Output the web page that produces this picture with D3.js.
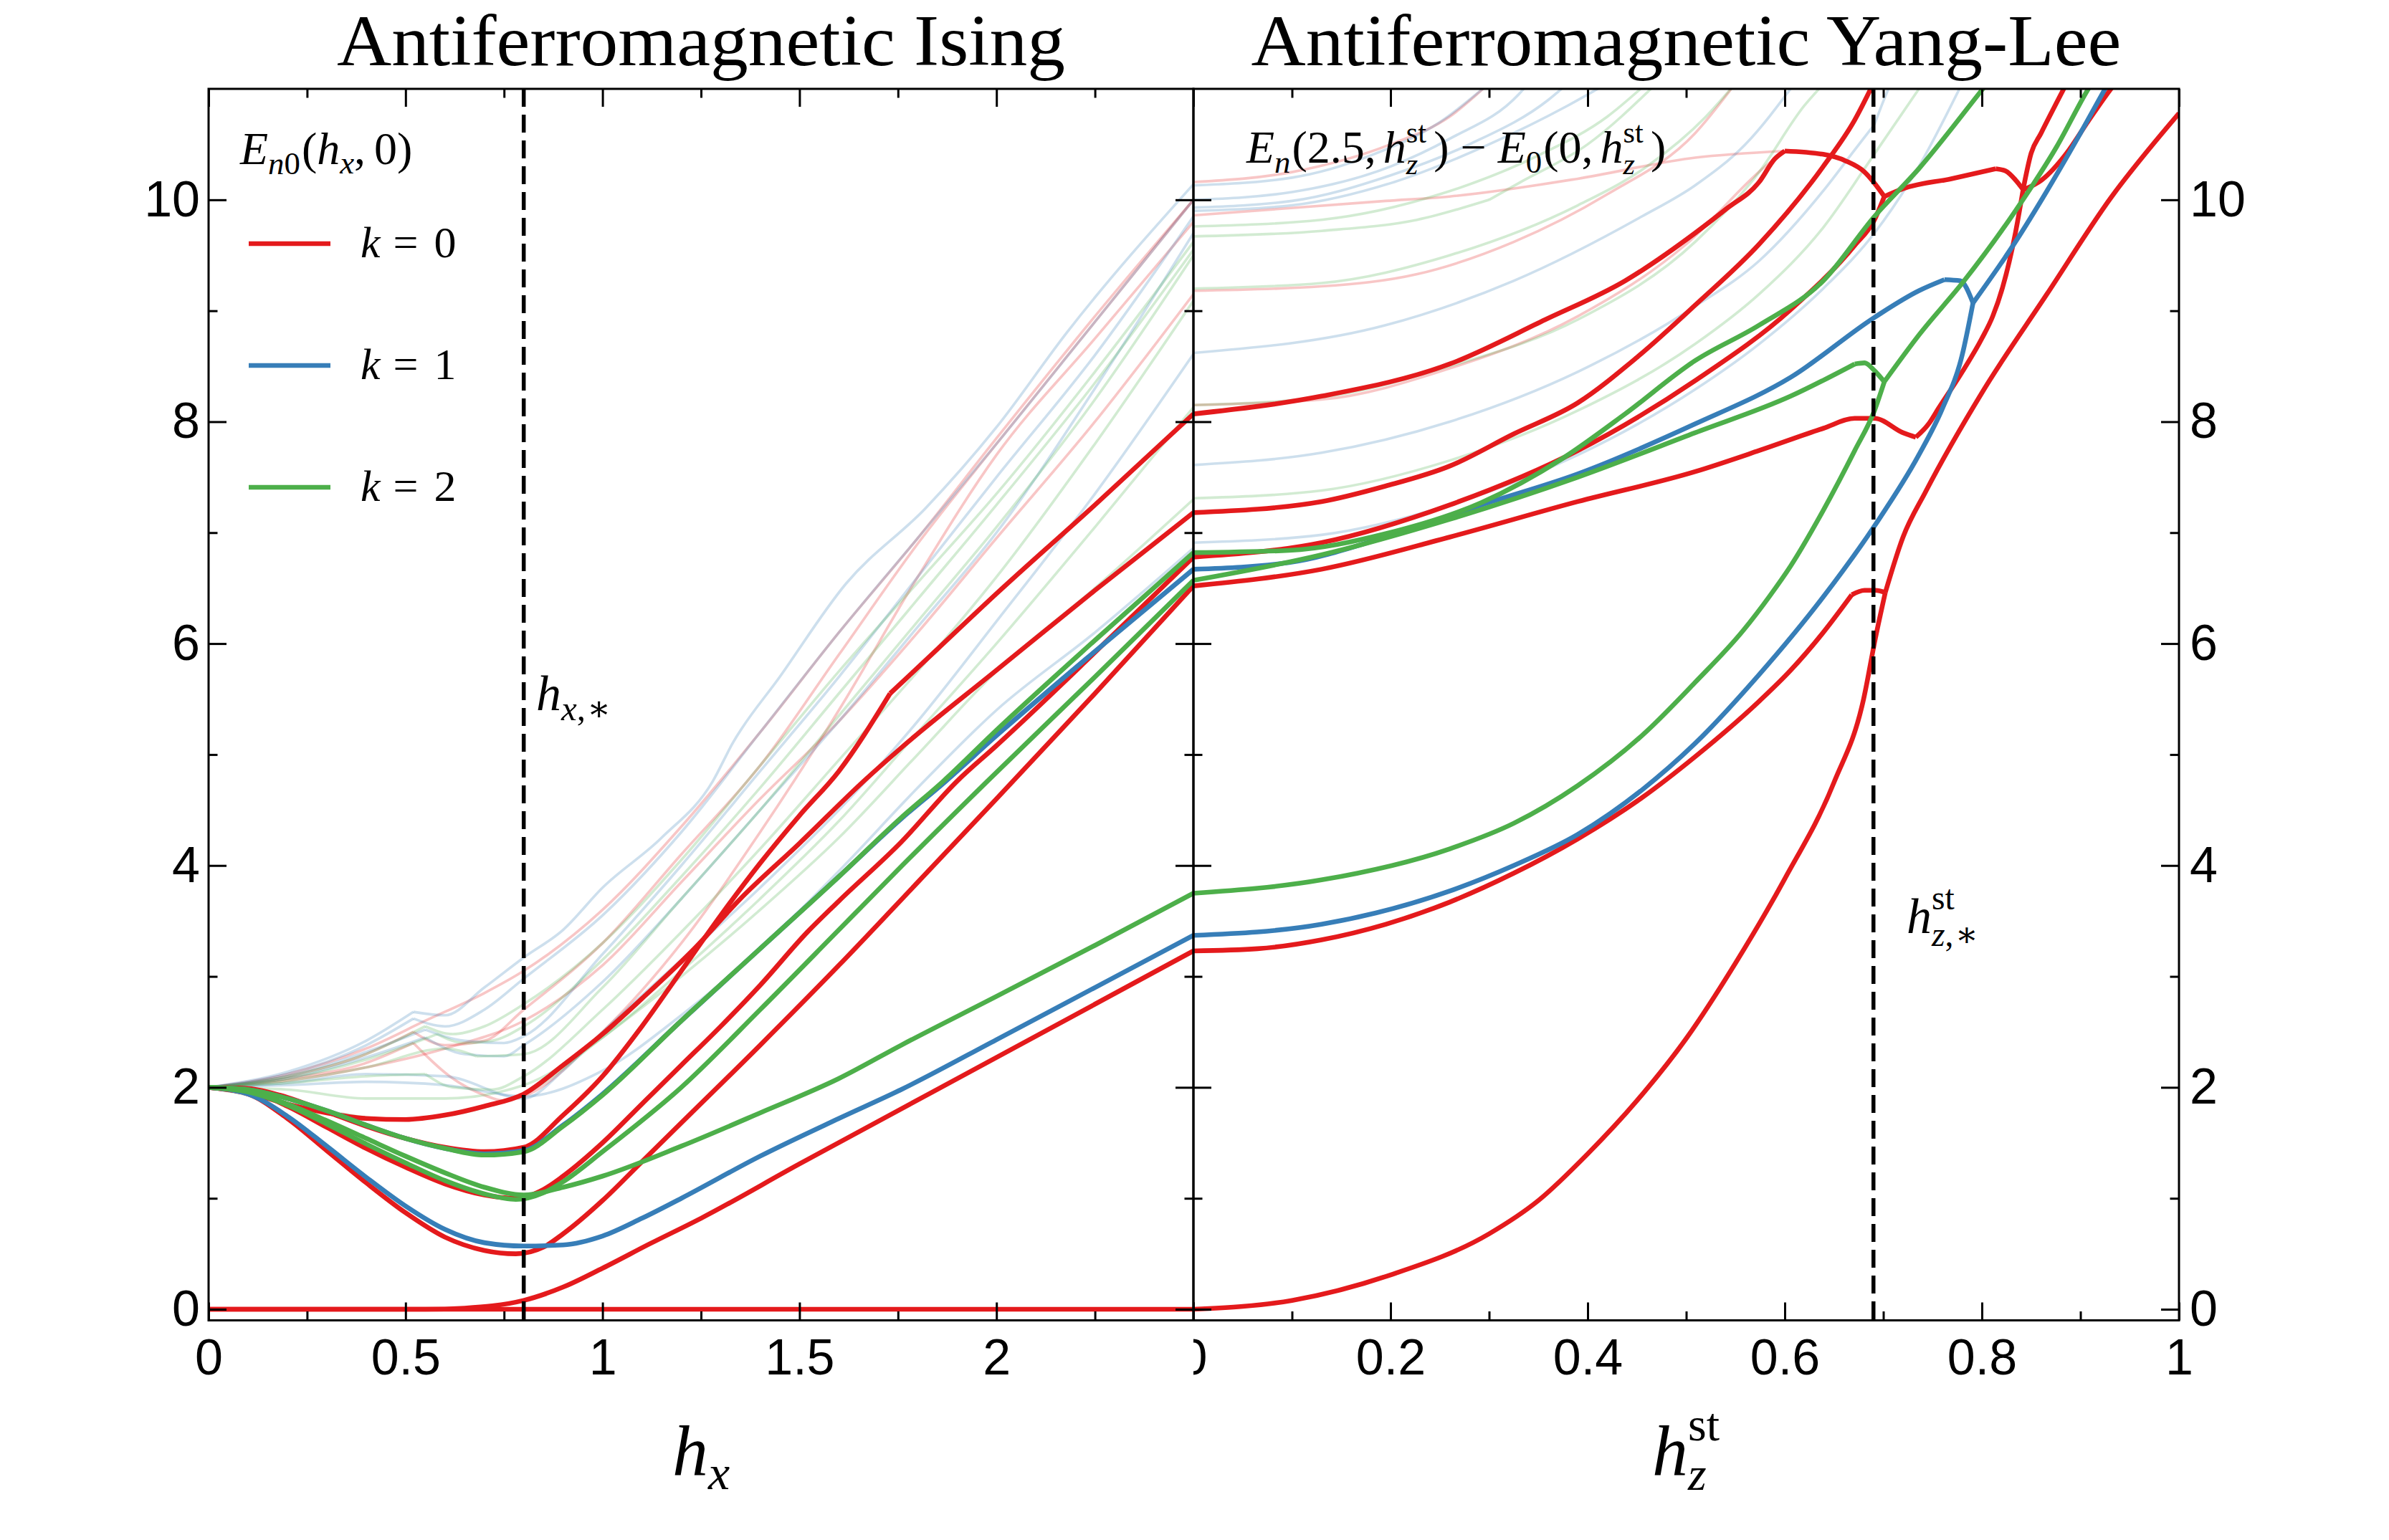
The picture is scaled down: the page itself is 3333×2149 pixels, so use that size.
<!DOCTYPE html>
<html>
<head>
<meta charset="utf-8">
<script src="https://cdn.jsdelivr.net/npm/d3@7"></script>
<style>
  html, body { margin: 0; padding: 0; background: #fff; }
  svg { display: block; }
</style>
</head>
<body>
<svg id="chart"></svg>
<script>
// ---- data: [h, E] pairs, a third value 1 marks a sharp kink ----

const panelTitles = ["Antiferromagnetic Ising", "Antiferromagnetic Yang-Lee"];
const legendKeys = ["0", "1", "2"];

const leftMajorTicks = [0, 0.5, 1, 1.5, 2, 2.5];
const leftMinorTicks = [0.25, 0.75, 1.25, 1.75, 2.25];
const rightMajorTicks = [0, 0.2, 0.4, 0.6, 0.8, 1];
const rightMinorTicks = [0.1, 0.3, 0.5, 0.7, 0.9];
const yMajorTicks = [0, 2, 4, 6, 8, 10];
const yMinorTicks = [1, 3, 5, 7, 9];

const isingCritical = 0.8;
const yangLeeCritical = 0.69;

// left panel, E_n0(h_x, 0)
const isingRed = [
  [[0,0],[2.5,0]],
  [[0,0],[0.55,0],[0.65,0.01],[0.72,0.03],[0.8,0.08],[0.9,0.2],[1.0,0.37],[1.12,0.59],[1.25,0.82],[1.5,1.31],[1.75,1.79],[2.0,2.27],[2.25,2.75],[2.5,3.23]],
  [[0,2],[0.1,1.94],[0.2,1.72],[0.3,1.43],[0.4,1.14],[0.5,0.87],[0.6,0.65],[0.7,0.53],[0.78,0.5],[0.85,0.56],[0.9,0.68],[1.0,0.98],[1.1,1.33],[1.2,1.68],[1.4,2.38],[1.6,3.1],[1.758,3.69],[2.0,4.6],[2.25,5.55],[2.5,6.52]],
  [[0,2],[0.1,1.97],[0.2,1.83],[0.3,1.64],[0.4,1.45],[0.5,1.28],[0.6,1.13],[0.7,1.03],[0.78,1.0],[0.85,1.08],[0.9,1.2],[1.0,1.5],[1.1,1.85],[1.2,2.2],[1.3,2.55],[1.4,2.92],[1.52,3.4],[1.6,3.68],[1.758,4.21],[1.9,4.76],[2.0,5.08],[2.25,5.92],[2.5,6.78]],
  [[0,2],[0.1,1.99],[0.2,1.91],[0.3,1.78],[0.4,1.65],[0.5,1.54],[0.6,1.46],[0.7,1.42],[0.8,1.46],[0.9,1.75],[1.0,2.1],[1.1,2.55],[1.2,3.05],[1.3,3.55],[1.4,4.02],[1.5,4.45],[1.6,4.85],[1.73,5.55,1],[1.85,5.95],[2.0,6.45],[2.25,7.25],[2.5,8.07]],
  [[0,2],[0.1,1.95],[0.2,1.85],[0.3,1.77],[0.4,1.72],[0.5,1.71],[0.6,1.75],[0.7,1.83],[0.8,1.94],[0.9,2.2],[1.0,2.48],[1.1,2.8],[1.233,3.25],[1.35,3.7],[1.5,4.2],[1.663,4.76],[1.758,5.06],[2.0,5.76],[2.25,6.48],[2.5,7.18]]
];
const isingBlue = [
  [[0,2],[0.1,1.94],[0.2,1.74],[0.3,1.47],[0.4,1.19],[0.5,0.93],[0.6,0.72],[0.7,0.6],[0.8,0.57],[0.9,0.58],[1.0,0.66],[1.1,0.82],[1.2,1.0],[1.4,1.38],[1.6,1.72],[1.758,1.98],[2.0,2.43],[2.25,2.9],[2.5,3.37]],
  [[0,2],[0.1,1.98],[0.2,1.9],[0.3,1.79],[0.4,1.66],[0.5,1.54],[0.6,1.45],[0.7,1.4],[0.8,1.43],[0.9,1.66],[1.0,1.94],[1.2,2.6],[1.4,3.25],[1.6,3.9],[1.758,4.42],[1.865,4.74],[2.0,5.17],[2.25,5.93],[2.5,6.67]]
];
const isingGreen = [
  [[0,2],[0.1,1.96],[0.2,1.84],[0.3,1.67],[0.4,1.49],[0.5,1.32],[0.6,1.16],[0.7,1.04],[0.78,0.99],[0.85,1.05],[0.9,1.15],[1.0,1.42],[1.2,2.0],[1.4,2.7],[1.6,3.42],[1.758,3.99],[1.977,4.76],[2.25,5.7],[2.5,6.57]],
  [[0,2],[0.1,1.98],[0.2,1.9],[0.3,1.79],[0.4,1.66],[0.5,1.54],[0.6,1.45],[0.7,1.39],[0.8,1.42],[0.9,1.65],[1.0,1.93],[1.2,2.6],[1.4,3.25],[1.6,3.9],[1.758,4.43],[1.865,4.76],[2.0,5.22],[2.25,6.03],[2.5,6.82]],
  [[0,2],[0.1,1.96],[0.2,1.85],[0.3,1.7],[0.4,1.54],[0.5,1.38],[0.6,1.23],[0.7,1.1],[0.8,1.03],[0.9,1.1],[1.0,1.2],[1.2,1.47],[1.4,1.77],[1.6,2.08],[1.758,2.38],[2.0,2.82],[2.25,3.28],[2.5,3.75]]
];
const isingRedFaint = [
  [[0,2],[0.2,2.12],[0.4,2.35],[0.55,2.6],[0.7,2.85],[0.8,3.05],[1.0,3.6],[1.2,4.35],[1.4,5.2],[1.6,6.1],[1.8,6.95],[2.0,7.85],[2.25,8.95],[2.5,10.0]],
  [[0,2],[0.2,2.08],[0.4,2.22],[0.52,2.4,1],[0.62,2.08],[0.7,1.93],[0.75,1.88],[0.8,1.92],[1.0,2.5],[1.2,3.3],[1.4,4.3],[1.6,5.4],[1.8,6.6],[2.0,7.7],[2.25,8.75],[2.5,9.8]],
  [[0,2],[0.2,2.06],[0.4,2.18],[0.6,2.35],[0.8,2.6],[1.0,3.1],[1.2,3.85],[1.4,4.6],[1.6,5.3],[1.8,6.1],[2.0,6.95],[2.25,8.0],[2.5,9.15]],
  [[0,2],[0.2,2.1],[0.4,2.3],[0.52,2.5,1],[0.6,2.38],[0.7,2.42],[0.8,2.7],[1.0,3.3],[1.2,4.1],[1.4,4.9],[1.6,5.9],[1.8,6.9],[2.0,7.8],[2.25,8.9],[2.5,10.0]]
];
const isingBlueFaint = [
  [[0,2],[0.2,2.14],[0.4,2.42],[0.52,2.68,1],[0.6,2.65],[0.7,2.9],[0.8,3.17],[0.9,3.42],[1.0,3.8],[1.15,4.25],[1.28,4.76],[1.33,5.1],[1.45,5.7],[1.618,6.54],[1.82,7.22],[2.0,7.95],[2.18,8.81],[2.5,10.14]],
  [[0,2],[0.2,2.12],[0.4,2.38],[0.52,2.62,1],[0.6,2.55],[0.7,2.7],[0.8,2.98],[1.0,3.55],[1.2,4.3],[1.4,5.2],[1.6,6.1],[1.8,6.95],[2.0,7.8],[2.25,8.9],[2.5,10.0]],
  [[0,2],[0.2,2.1],[0.4,2.32],[0.55,2.52,1],[0.65,2.42],[0.75,2.4],[0.8,2.46],[1.0,3.2],[1.2,4.0],[1.4,4.85],[1.6,5.7],[1.8,6.6],[2.0,7.5],[2.25,8.6],[2.5,9.85]],
  [[0,2],[0.2,2.08],[0.4,2.27],[0.55,2.45,1],[0.65,2.3],[0.75,2.28],[0.8,2.38],[1.0,2.95],[1.2,3.7],[1.4,4.5],[1.6,5.3],[1.8,6.15],[2.0,7.0],[2.25,8.3],[2.5,9.7]],
  [[0,2],[0.2,2.04],[0.4,2.12],[0.6,2.1],[0.8,1.9],[0.9,2.15],[1.0,2.5],[1.2,3.15],[1.4,3.8],[1.6,4.5],[1.8,5.3],[2.0,6.2],[2.25,7.35],[2.5,8.61]],
  [[0,2],[0.2,2.02],[0.4,2.05],[0.6,2.02],[0.8,1.92],[1.0,2.15],[1.2,2.65],[1.4,3.25],[1.6,3.95],[1.8,4.7],[2.0,5.4],[2.25,6.1],[2.5,6.86]]
];
const isingGreenFaint = [
  [[0,2],[0.2,2.1],[0.4,2.3],[0.55,2.55,1],[0.62,2.48],[0.7,2.55],[0.8,2.75],[1.0,3.3],[1.2,4.05],[1.4,4.9],[1.6,5.75],[1.8,6.55],[2.0,7.35],[2.25,8.45],[2.5,9.62]],
  [[0,2],[0.2,2.08],[0.4,2.25],[0.58,2.48,1],[0.65,2.4],[0.72,2.42],[0.8,2.55],[1.0,3.15],[1.2,3.9],[1.4,4.7],[1.6,5.55],[1.8,6.4],[2.0,7.25],[2.25,8.35],[2.5,9.55]],
  [[0,2],[0.2,2.06],[0.4,2.18],[0.6,2.35],[0.68,2.28,1],[0.8,2.3],[1.0,2.9],[1.2,3.7],[1.4,4.5],[1.6,5.35],[1.8,6.2],[2.0,7.05],[2.25,8.2],[2.5,9.5]],
  [[0,2],[0.2,2.04],[0.4,2.1],[0.55,2.12,1],[0.62,2.0],[0.72,1.98],[0.8,2.1],[1.0,2.7],[1.2,3.4],[1.4,4.15],[1.6,4.95],[1.8,5.75],[2.0,6.6],[2.25,7.8],[2.5,9.09]],
  [[0,2],[0.2,1.98],[0.4,1.9],[0.6,1.9],[0.8,2.02],[1.0,2.45],[1.2,3.05],[1.4,3.7],[1.6,4.4],[1.8,5.2],[2.0,6.0],[2.25,7.05],[2.5,8.13]],
  [[0,2],[0.2,1.86],[0.4,1.73],[0.5,1.71],[0.6,1.74],[0.7,1.82],[0.8,1.94],[1.0,2.45],[1.2,3.0],[1.4,3.6],[1.6,4.25],[1.8,5.0],[2.0,5.75],[2.25,6.5],[2.5,7.3]]
];

// right panel, E_n(2.5, h_z) - E_0(0, h_z)
const ylRed = [
  [[0,0],[0.1,0.08],[0.2,0.31],[0.3,0.68],[0.35,0.98],[0.4,1.4],[0.45,1.88],[0.5,2.44],[0.55,3.12],[0.6,3.88],[0.65,4.75],[0.68,5.5],[0.692,6.05],[0.702,6.46,1],[0.72,6.96],[0.743,7.37],[0.8,8.26],[0.866,9.15],[0.931,10.02],[1.0,10.78]],
  [[0,3.23],[0.065,3.25],[0.13,3.33],[0.195,3.47],[0.26,3.67],[0.325,3.93],[0.39,4.24],[0.455,4.61],[0.509,4.98],[0.574,5.48],[0.606,5.76],[0.639,6.1],[0.668,6.44,1],[0.681,6.48],[0.692,6.48],[0.702,6.46]],
  [[0,6.52],[0.13,6.67],[0.26,6.96],[0.39,7.28],[0.509,7.55],[0.574,7.74],[0.639,7.94],[0.671,8.03],[0.691,8.03],[0.72,7.9],[0.733,7.86,1],[0.746,7.98],[0.756,8.12],[0.778,8.42],[0.8,8.75],[0.811,8.95],[0.821,9.21],[0.834,9.7],[0.842,10.1,1],[0.85,10.42],[0.86,10.6],[0.886,11.05]],
  [[0,6.78],[0.13,6.91],[0.26,7.25],[0.39,7.74],[0.509,8.37],[0.606,9.01],[0.671,9.59],[0.691,9.82],[0.701,10.03,1]],
  [[0,8.07],[0.13,8.23],[0.26,8.52],[0.357,8.92],[0.438,9.27],[0.509,9.7],[0.541,9.92],[0.574,10.16],[0.59,10.37],[0.6,10.44,1],[0.639,10.41],[0.662,10.35],[0.681,10.25],[0.691,10.15],[0.701,10.03,1],[0.72,10.1],[0.769,10.19],[0.814,10.28,1],[0.824,10.26],[0.834,10.18],[0.842,10.09,1],[0.861,10.18],[0.886,10.42],[0.908,10.71],[0.931,11.0],[0.94,11.1]],
  [[0,7.18],[0.13,7.28],[0.195,7.42],[0.26,7.6],[0.325,7.89],[0.39,8.17],[0.45,8.58],[0.509,9.05],[0.574,9.6],[0.639,10.3],[0.671,10.72],[0.69,11.05]]
];
const ylBlue = [
  [[0,3.37],[0.13,3.47],[0.26,3.77],[0.325,4.0],[0.39,4.28],[0.455,4.68],[0.509,5.1],[0.574,5.72],[0.639,6.42],[0.691,7.06],[0.736,7.7],[0.76,8.12],[0.78,8.6],[0.791,9.07,1],[0.834,9.62],[0.866,10.08],[0.9,10.6],[0.925,11.0],[0.93,11.08]],
  [[0,6.67],[0.097,6.73],[0.195,6.96],[0.292,7.25],[0.39,7.53],[0.509,7.98],[0.606,8.4],[0.691,8.94],[0.736,9.18],[0.762,9.28,1],[0.778,9.27],[0.791,9.07]]
];
const ylGreen = [
  [[0,3.75],[0.13,3.87],[0.26,4.15],[0.325,4.38],[0.39,4.72],[0.455,5.17],[0.509,5.65],[0.558,6.12],[0.584,6.42],[0.606,6.7],[0.639,7.2],[0.671,7.74],[0.691,8.1],[0.701,8.36,1],[0.736,8.78],[0.782,9.27],[0.834,9.9],[0.876,10.48],[0.908,11.0],[0.915,11.1]],
  [[0,6.57],[0.13,6.8],[0.26,7.12],[0.39,7.5],[0.509,7.9],[0.606,8.23],[0.671,8.52,1],[0.681,8.53],[0.691,8.46],[0.701,8.36]],
  [[0,6.82],[0.097,6.84],[0.195,6.99],[0.292,7.27],[0.373,7.66],[0.438,8.07],[0.509,8.55],[0.574,8.87],[0.639,9.27],[0.691,9.85],[0.736,10.28],[0.801,11.0],[0.81,11.1]]
];
const ylRedFaint = [
  [[0,10.16],[0.1,10.25],[0.2,10.5],[0.26,10.75],[0.3,11.05]],
  [[0,9.86],[0.195,9.99],[0.26,10.03],[0.39,10.19],[0.509,10.38],[0.6,10.44]],
  [[0,9.18],[0.13,9.22],[0.227,9.33],[0.325,9.62],[0.42,10.05],[0.509,10.6],[0.55,11.05]],
  [[0,8.15],[0.13,8.2],[0.26,8.48],[0.39,8.95],[0.5,9.6],[0.58,10.3],[0.6,10.44]]
];
const ylBlueFaint = [
  [[0,6.91],[0.13,6.98],[0.26,7.25],[0.39,7.7],[0.509,8.29],[0.574,8.7],[0.639,9.2],[0.691,9.7],[0.736,10.3],[0.78,11.05]],
  [[0,7.61],[0.13,7.72],[0.26,8.0],[0.39,8.45],[0.509,9.04],[0.574,9.45],[0.639,10.08],[0.671,10.45],[0.691,10.68,1],[0.701,10.91],[0.71,11.1]],
  [[0,8.62],[0.195,8.87],[0.325,9.27],[0.455,9.85],[0.509,10.13],[0.56,10.5],[0.61,11.05]],
  [[0,9.9],[0.1,9.95],[0.2,10.15],[0.3,10.5],[0.38,10.85],[0.42,11.05]],
  [[0,9.93],[0.1,9.99],[0.2,10.22],[0.28,10.5],[0.36,10.9],[0.38,11.05]],
  [[0,10.0],[0.1,10.07],[0.2,10.3],[0.26,10.55],[0.33,10.95],[0.34,11.05]],
  [[0,10.13],[0.1,10.2],[0.18,10.4],[0.25,10.7],[0.3,11.05]]
];
const ylGreenFaint = [
  [[0,7.31],[0.13,7.38],[0.26,7.65],[0.39,8.1],[0.509,8.7],[0.574,9.15],[0.639,9.75],[0.69,10.4],[0.74,11.05]],
  [[0,8.15],[0.13,8.22],[0.26,8.5],[0.39,8.92],[0.509,9.62],[0.574,10.25],[0.62,10.85],[0.64,11.05]],
  [[0,9.67],[0.13,9.72],[0.227,9.82],[0.3,10.0,1],[0.33,10.15],[0.4,10.5],[0.47,11.05]],
  [[0,9.76],[0.13,9.82],[0.25,10.05],[0.35,10.4],[0.42,10.75],[0.46,11.05]],
  [[0,9.2],[0.13,9.25],[0.26,9.5],[0.39,9.95],[0.46,10.3],[0.52,10.75],[0.55,11.05]]
];

// ---- layout ----
const width = 3333;
const height = 2149;
const RED = "#e41a1c", BLUE = "#377eb8", GREEN = "#4daf4a";
const BOLD_W = 6.6, FAINT_W = 3.6, FAINT_A = 0.25;
const SERIF = "'Liberation Serif', 'DejaVu Serif', serif";
const SANS = "'Liberation Sans', Arial, sans-serif";

const yTop = 124, yBot = 1842.5;
const xL = d3.scaleLinear().domain([0, 2.5]).range([291, 1665]);
const xR = d3.scaleLinear().domain([0, 1]).range([1665, 3040]);
const y = d3.scaleLinear().domain([-0.1, 11]).range([yBot, yTop]);

const svg = d3.select("#chart").attr("width", width).attr("height", height);
const defs = svg.append("defs");

function addClip(id, x0, x1, y0, y1) {
  defs.append("clipPath").attr("id", id)
    .append("rect").attr("x", x0).attr("y", y0).attr("width", x1 - x0).attr("height", y1 - y0);
}
addClip("clipL", 291, 1665, yTop, yBot);
addClip("clipR", 1665, 3040, yTop, yBot);
addClip("clipZero", 1665, 1800, yBot, yBot + 200);

function splitAtKinks(pts) {
  const out = [];
  let cur = [];
  pts.forEach(p => {
    cur.push(p);
    if (p[2]) { out.push(cur); cur = [p]; }
  });
  if (cur.length > 1) out.push(cur);
  return out;
}

function drawCurves(g, xs, curves, color, lw, alpha) {
  const line = d3.line()
    .x(d => xs(d[0]))
    .y(d => y(d[1]))
    .curve(d3.curveMonotoneX);
  curves.forEach(c => {
    splitAtKinks(c).forEach(seg => {
      g.append("path")
        .attr("d", line(seg))
        .attr("fill", "none")
        .attr("stroke", color)
        .attr("stroke-opacity", alpha)
        .attr("stroke-width", lw)
        .attr("stroke-linejoin", "round");
    });
  });
}

// math text as one <text>, pieces placed one after another and measured in the browser
function mathText(parent, x, yb, size, parts, anchor) {
  const t = parent.append("text")
    .attr("font-family", SERIF)
    .attr("transform", `translate(${x},${yb})`);
  let cx = 0, prevStart = 0, maxX = 0;
  parts.forEach(p => {
    const s = p.s || 1;
    if (p.stack) cx = prevStart;
    cx += p.gap || 0;
    const span = t.append("tspan")
      .attr("x", cx)
      .attr("y", (p.b || 0) * size)
      .attr("font-size", size * s)
      .attr("font-style", p.i ? "italic" : "normal")
      .text(p.t);
    const w = span.node().getComputedTextLength();
    prevStart = cx;
    cx += w;
    maxX = Math.max(maxX, cx);
  });
  if (anchor === "middle") t.attr("transform", `translate(${x - maxX / 2},${yb})`);
  return t;
}

// ---- curves ----
const plotL = svg.append("g").attr("clip-path", "url(#clipL)");
drawCurves(plotL, xL, isingRedFaint, RED, FAINT_W, FAINT_A);
drawCurves(plotL, xL, isingBlueFaint, BLUE, FAINT_W, FAINT_A);
drawCurves(plotL, xL, isingGreenFaint, GREEN, FAINT_W, FAINT_A);
drawCurves(plotL, xL, isingRed, RED, BOLD_W, 1);
drawCurves(plotL, xL, isingBlue, BLUE, BOLD_W, 1);
drawCurves(plotL, xL, isingGreen, GREEN, BOLD_W, 1);

const plotR = svg.append("g").attr("clip-path", "url(#clipR)");
drawCurves(plotR, xR, ylRedFaint, RED, FAINT_W, FAINT_A);
drawCurves(plotR, xR, ylBlueFaint, BLUE, FAINT_W, FAINT_A);
drawCurves(plotR, xR, ylGreenFaint, GREEN, FAINT_W, FAINT_A);
drawCurves(plotR, xR, ylRed, RED, BOLD_W, 1);
drawCurves(plotR, xR, ylBlue, BLUE, BOLD_W, 1);
drawCurves(plotR, xR, ylGreen, GREEN, BOLD_W, 1);

// dashed critical lines
[xL(isingCritical), xR(yangLeeCritical)].forEach(xc => {
  svg.append("line")
    .attr("x1", xc).attr("x2", xc)
    .attr("y1", yTop).attr("y2", yBot)
    .attr("stroke", "#000")
    .attr("stroke-width", 5.5)
    .attr("stroke-dasharray", "25,11");
});

// ---- axes ----
function styleAxis(g) {
  g.select(".domain").remove();
  g.selectAll("line").attr("stroke-width", 3);
  g.attr("font-family", SANS).attr("font-size", 70);
}
const blank = () => "";

function panelAxes(xs, major, minor, bottomFmt, leftLabels, rightLabels) {
  const [x0, x1] = xs.range();
  svg.append("g").attr("transform", `translate(0,${yBot})`)
    .call(d3.axisBottom(xs).tickValues(major).tickSize(-25).tickPadding(26).tickFormat(bottomFmt))
    .call(styleAxis);
  svg.append("g").attr("transform", `translate(0,${yBot})`)
    .call(d3.axisBottom(xs).tickValues(minor).tickSize(-12.5).tickFormat(blank))
    .call(styleAxis);
  svg.append("g").attr("transform", `translate(0,${yTop})`)
    .call(d3.axisTop(xs).tickValues(major).tickSize(-25).tickFormat(blank))
    .call(styleAxis);
  svg.append("g").attr("transform", `translate(0,${yTop})`)
    .call(d3.axisTop(xs).tickValues(minor).tickSize(-12.5).tickFormat(blank))
    .call(styleAxis);
  svg.append("g").attr("transform", `translate(${x0},0)`)
    .call(d3.axisLeft(y).tickValues(yMajorTicks).tickSize(-25).tickPadding(12).tickFormat(leftLabels ? String : blank))
    .call(styleAxis);
  svg.append("g").attr("transform", `translate(${x0},0)`)
    .call(d3.axisLeft(y).tickValues(yMinorTicks).tickSize(-12.5).tickFormat(blank))
    .call(styleAxis);
  svg.append("g").attr("transform", `translate(${x1},0)`)
    .call(d3.axisRight(y).tickValues(yMajorTicks).tickSize(-25).tickPadding(15).tickFormat(rightLabels ? String : blank))
    .call(styleAxis);
  svg.append("g").attr("transform", `translate(${x1},0)`)
    .call(d3.axisRight(y).tickValues(yMinorTicks).tickSize(-12.5).tickFormat(blank))
    .call(styleAxis);
  svg.append("rect")
    .attr("x", x0).attr("y", yTop)
    .attr("width", x1 - x0).attr("height", yBot - yTop)
    .attr("fill", "none").attr("stroke", "#000").attr("stroke-width", 3);
}

panelAxes(xL, leftMajorTicks, leftMinorTicks, d => d === 2.5 ? "" : String(d), true, false);
panelAxes(xR, rightMajorTicks, rightMinorTicks, d => d === 0 ? "" : String(d), false, true);

// the right panel's "0" sits under the shared spine and is half hidden
svg.append("text")
  .attr("x", xR(0)).attr("y", yBot + 26).attr("dy", "0.71em")
  .attr("text-anchor", "middle")
  .attr("font-family", SANS).attr("font-size", 70)
  .attr("clip-path", "url(#clipZero)")
  .text(String(rightMajorTicks[0]));

// ---- titles and labels ----
[[xL, 1016], [xR, 1214]].forEach(([xs, len], i) => {
  svg.append("text")
    .attr("x", (xs.range()[0] + xs.range()[1]) / 2).attr("y", 91)
    .attr("text-anchor", "middle")
    .attr("font-family", SERIF).attr("font-size", 102)
    .attr("textLength", len).attr("lengthAdjust", "spacingAndGlyphs")
    .text(panelTitles[i]);
});

mathText(svg, 978, 2058, 100, [
  {t: "h", i: 1}, {t: "x", i: 1, s: 0.68, b: 0.2}
], "middle");
mathText(svg, 2352, 2058, 100, [
  {t: "h", i: 1}, {t: "st", s: 0.66, b: -0.48}, {t: "z", i: 1, s: 0.66, b: 0.21, stack: 1}
], "middle");

mathText(svg, 748, 991, 70, [
  {t: "h", i: 1}, {t: "x", i: 1, s: 0.7, b: 0.2}, {t: ",", s: 0.7, b: 0.2}, {t: "∗", s: 0.7, b: 0.2, gap: 2}
]);
mathText(svg, 2660, 1302, 70, [
  {t: "h", i: 1}, {t: "st", s: 0.68, b: -0.47}, {t: "z", i: 1, s: 0.68, b: 0.25, stack: 1},
  {t: ",", s: 0.68, b: 0.25}, {t: "∗", s: 0.68, b: 0.25, gap: 2}
]);

mathText(svg, 1739, 227, 64, [
  {t: "E", i: 1}, {t: "n", i: 1, s: 0.7, b: 0.22}, {t: "(2.5,", gap: 2}, {t: "h", i: 1, gap: 10},
  {t: "st", s: 0.66, b: -0.44}, {t: "z", i: 1, s: 0.66, b: 0.25, stack: 1}, {t: ")", gap: 22},
  {t: "−", gap: 16}, {t: "E", i: 1, gap: 16}, {t: "0", s: 0.7, b: 0.22}, {t: "(0,", gap: 2},
  {t: "h", i: 1, gap: 10}, {t: "st", s: 0.66, b: -0.44}, {t: "z", i: 1, s: 0.66, b: 0.25, stack: 1},
  {t: ")", gap: 22}
]);

// legend
mathText(svg, 335, 229, 64, [
  {t: "E", i: 1}, {t: "n", i: 1, s: 0.7, b: 0.22}, {t: "0", s: 0.7, b: 0.22}, {t: "(", gap: 2},
  {t: "h", i: 1}, {t: "x", i: 1, s: 0.7, b: 0.2}, {t: ","}, {t: "0", gap: 12}, {t: ")"}
]);
const legendColors = [RED, BLUE, GREEN];
legendKeys.forEach((k, i) => {
  const ly = 340 + i * 170;
  svg.append("line")
    .attr("x1", 347).attr("x2", 461).attr("y1", ly).attr("y2", ly)
    .attr("stroke", legendColors[i]).attr("stroke-width", BOLD_W);
  mathText(svg, 503, ly + 19, 62, [
    {t: "k", i: 1}, {t: "=", gap: 18}, {t: k, gap: 22}
  ]);
});
</script>
</body>
</html>
